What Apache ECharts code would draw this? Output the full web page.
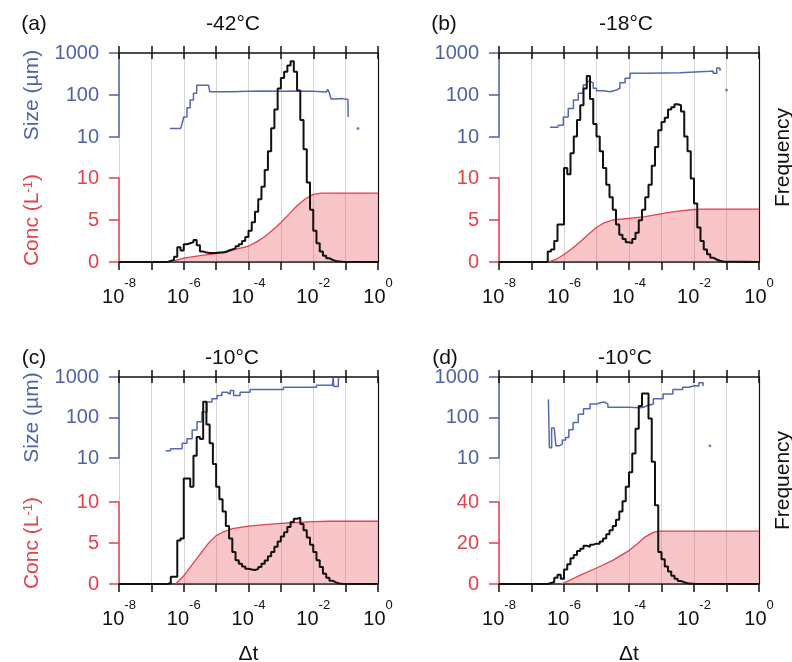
<!DOCTYPE html>
<html>
<head>
<meta charset="utf-8">
<script src="https://cdn.jsdelivr.net/npm/echarts@6/dist/echarts.min.js"></script>
<style>html,body{margin:0;padding:0;background:#fff}#c{width:792px;height:662px}</style>
</head>
<body>
<div id="c"></div>
<script>
// ---- data (x values are log10(Δt)) ----
const expMin = -8, expMax = 0;
const binWidth = 0.1;

const histA_start = -6.5;
const histA = [0.5,1,2.5,7,5.5,8.5,9,9.5,10.5,8,5,4.5,4.3,4.3,4.3,4.5,4.5,4.8,5.5,6,6.5,7.5,8.5,10,12,15,19,24,30,36,44,53,64,73,83,88,91,94,96,91,82,68,54,38,25,15,9,5,3,1.8,1,0.5,0.3,0.1];
const histB_start = -6.5;
const histB = [5,6,10,18,18,45,42,52,60,68,75,83,89,78,66,60,53,45,37,31,25,18,13,11,9.5,9,11,14,20,25,31,37,46,55,63,67,69,73,74,75.5,75,72,60,53,40,28,16.5,10,6,3.7,2,1.2,0.6,0.2];
const histC_start = -6.5;
const histC = [0.5,3.5,3.5,21,22,51,51,47,62,71,70,88,77,68,58,47,41,35,28,22,15.5,11.5,9.8,8.5,7.4,7,6.8,7.2,8.2,9.8,11.4,13.4,15.5,18,20.5,23,25,27.5,30,31.5,32,29,26,22.5,19,15.5,11.5,8.2,5,3,1.6,0.8,0.3,0.1];
const histD_start = -6.5;
const histD = [0.5,1,3,4.5,2.5,7,9.5,12.5,14,16,17,18.5,18,19,19.5,19.5,20.5,22,24,26,28,31,35,40,47,54,63,75,86,92,92,80,59,38,15.5,12,8.5,6,4,2.5,1.5,0.8,0.4,0.2,0.1];

const concA_exp = [-6.5,-6.25,-6,-5.5,-5,-4.5,-4,-3.75,-3.5,-3.25,-3,-2.75,-2.5,-2.25,-2,-1.75,0];
const concA_val = [0,0.2,0.45,0.75,1.0,1.4,1.9,2.4,3.0,3.8,4.7,5.7,6.7,7.5,8.05,8.2,8.2];
const concB_exp = [-6.5,-6.25,-6,-5.75,-5.5,-5.25,-5,-4.75,-4.5,-4,-3.5,-3,-2.5,-2,-1.75,0];
const concB_val = [0,0.3,0.9,1.6,2.4,3.3,4.1,4.7,5.0,5.2,5.4,5.75,6.05,6.25,6.3,6.3];
const concC_exp = [-6.25,-6,-5.75,-5.5,-5.25,-5,-4.75,-4.5,-4,-3.5,-3,-2.5,-2,-1.5,0];
const concC_val = [0,1.0,2.3,3.6,4.9,5.9,6.4,6.75,7.05,7.25,7.4,7.5,7.6,7.65,7.65];
const concD_exp = [-6.1,-6,-5.5,-5,-4.5,-4,-3.75,-3.5,-3.25,-3.1,0];
const concD_val = [0,0.5,4.3,7.8,11.5,16.3,19.5,23,25.2,25.8,25.8];

const sizeA_exp = [-6.43,-6.1,-6.05,-6,-5.9,-5.8,-5.7,-5.6,-5.23,-5.2,-4.8,-4.5,-4,-3.5,-3,-2.5,-2,-1.6,-1.55,-1.5,-1.45,-1.3,-1.1,-0.93,-0.92];
const sizeA_val = [16,16,21,30,50,76,110,170,175,120,120,122,124,123,125,122,118,112,135,110,80,82,78,78,30];
const sizeB_exp = [-6.43,-6.2,-6.17,-6.02,-5.87,-5.71,-5.56,-5.41,-5.3,-5.2,-5.1,-5,-4.79,-4.58,-4.38,-4.28,-4.12,-3.97,-3.46,-2.43,-1.51,-1.41,-1.3,-1.2];
const sizeB_val = [17,17,19,30,48,76,110,173,210,195,145,126,120,132,145,195,250,330,340,370,375,330,440,375];
const sizeC_exp = [-6.56,-6.41,-6.21,-6.05,-5.9,-5.74,-5.59,-5.44,-5.28,-5.13,-4.97,-4.82,-4.67,-4.56,-4.46,-4.26,-3.95,-2.92,-1.9,-1.4,-1.38,-1.37,-1.23,-1.22];
const sizeC_val = [15,17,17,23,30,49,78,136,240,290,350,420,380,465,350,420,490,560,630,760,950,580,580,950];
const sizeD_exp = [-6.48,-6.45,-6.38,-6.3,-6.25,-6.15,-6.05,-5.95,-5.85,-5.72,-5.56,-5.4,-5.2,-5,-4.85,-4.75,-4.65,-4.5,-4,-3.66,-3.55,-3.45,-3.25,-2.95,-2.65,-2.35,-2.15,-2,-1.95,-1.85,-1.72];
const sizeD_val = [280,18,55,55,20,22,28,32,50,75,120,165,215,235,240,215,180,178,175,178,195,215,290,380,490,560,610,650,600,720,600];

const dotA = [[-0.62, 16]];
const dotB = [[-1.0, 132]];
const dotC = [];
const dotD = [[-1.51, 20]];

const sizeTicks = [10, 100, 1000];

const letters = ['(a)', '(b)', '(c)', '(d)'];
const temps = ['-42°C', '-18°C', '-10°C', '-10°C'];

// ---- layout / styles ----
const FONT = '"Liberation Sans", Arial, sans-serif';
const BLUE = '#4f62a6', BLUE_LINE = '#5468b0', RED = '#e4414b', BLACK = '#111';

const panels = [
  {left:119, top:53, width:259, height:209, sizeH:84, concTop:178, concH:84, hist:[histA_start,histA], conc:[concA_exp,concA_val], size:[sizeA_exp,sizeA_val], dot:dotA, concMax:10, concInt:5, names:true, freq:false, dt:false, lx:34, tx:233, ty:24},
  {left:499, top:53, width:260, height:209, sizeH:84, concTop:178, concH:84, hist:[histB_start,histB], conc:[concB_exp,concB_val], size:[sizeB_exp,sizeB_val], dot:dotB, concMax:10, concInt:5, names:false, freq:true, dt:false, lx:444, tx:626, ty:24},
  {left:119, top:377, width:259, height:207, sizeH:81, concTop:502, concH:82, hist:[histC_start,histC], conc:[concC_exp,concC_val], size:[sizeC_exp,sizeC_val], dot:dotC, concMax:10, concInt:5, names:true, freq:false, dt:true, lx:34, tx:232, ty:358},
  {left:499, top:377, width:260, height:207, sizeH:81, concTop:502, concH:82, hist:[histD_start,histD], conc:[concD_exp,concD_val], size:[sizeD_exp,sizeD_val], dot:dotD, concMax:40, concInt:20, names:false, freq:true, dt:true, lx:445, tx:625, ty:358}
];

function histData(start, vals) {
  const d = [[expMin, 0], [start, 0]];
  vals.forEach((v, i) => d.push([+(start + i * binWidth).toFixed(3), v]));
  d.push([+(start + vals.length * binWidth).toFixed(3), 0]);
  d.push([expMax, 0]);
  return d;
}
function pairs(xs, ys) { return xs.map((x, i) => [x, ys[i]]); }

const grid = [], xAxis = [], yAxis = [], series = [], graphic = [];
const xLabelRich = {
  b: {fontSize: 20, fontFamily: FONT, color: BLACK, lineHeight: 30, verticalAlign: 'bottom'},
  s: {fontSize: 13, fontFamily: FONT, color: BLACK, lineHeight: 13, verticalAlign: 'top'}
};

panels.forEach((p, k) => {
  const g0 = k * 3, x0 = k * 5, y0 = k * 3;
  const gb = {containLabel: false, outerBoundsMode: 'none'};
  grid.push(Object.assign({left: p.left, top: p.top, width: p.width, height: p.height}, gb));
  grid.push(Object.assign({left: p.left, top: p.top, width: p.width, height: p.sizeH}, gb));
  grid.push(Object.assign({left: p.left, top: p.concTop, width: p.width, height: p.concH}, gb));

  xAxis.push({
    gridIndex: g0, type: 'value', min: expMin, max: expMax, interval: 1, position: 'bottom',
    axisLine: {show: true, onZero: false, lineStyle: {color: BLACK, width: 1.5}},
    axisTick: {show: true, inside: false, length: 8, lineStyle: {color: BLACK, width: 1.5}},
    axisLabel: {show: true, margin: 15, formatter: v => (Math.round(v) % 2 === 0 ? '{b|10}{s|' + Math.round(v) + '}' : ''), rich: xLabelRich},
    splitLine: {show: true, lineStyle: {color: '#d6d6d6', width: 1}},
    name: p.dt ? 'Δt' : '', nameLocation: 'middle', nameGap: 60,
    nameTextStyle: {fontSize: 21, fontFamily: FONT, color: BLACK}
  });
  xAxis.push({
    gridIndex: g0, type: 'value', min: expMin, max: expMax, interval: 1, position: 'top',
    axisLine: {show: true, onZero: false, lineStyle: {color: BLACK, width: 1.5}},
    axisTick: {show: true, inside: false, length: 7, lineStyle: {color: BLACK, width: 1.5}},
    axisLabel: {show: false}, splitLine: {show: false}
  });
  xAxis.push({
    gridIndex: g0, type: 'value', min: expMin, max: expMax, interval: 1, position: 'top',
    axisLine: {show: false, onZero: false},
    axisTick: {show: true, inside: true, length: 6, lineStyle: {color: BLACK, width: 1.5}},
    axisLabel: {show: false}, splitLine: {show: false}
  });
  xAxis.push({gridIndex: g0 + 1, type: 'value', min: expMin, max: expMax, show: false});
  xAxis.push({gridIndex: g0 + 2, type: 'value', min: expMin, max: expMax, show: false});

  yAxis.push({
    gridIndex: g0, type: 'value', min: 0, max: 100, position: 'right',
    axisLine: {show: true, onZero: false, lineStyle: {color: BLACK, width: 1.2}},
    axisTick: {show: false}, axisLabel: {show: false}, splitLine: {show: false},
    name: p.freq ? 'Frequency' : '', nameLocation: 'middle', nameGap: 14,
    nameTextStyle: {fontSize: 21, fontFamily: FONT, color: BLACK}
  });
  yAxis.push({
    gridIndex: g0 + 1, type: 'log', logBase: 10, min: sizeTicks[0], max: sizeTicks[sizeTicks.length - 1], position: 'left',
    axisLine: {show: true, onZero: false, lineStyle: {color: BLUE, width: 1.5}},
    axisTick: {show: true, inside: false, length: 10, lineStyle: {color: BLUE, width: 1.5}},
    axisLabel: {show: true, margin: 20, color: BLUE, fontSize: 20, fontFamily: FONT, formatter: v => String(Math.round(v))},
    splitLine: {show: false}, minorTick: {show: false},
    name: p.names ? 'Size (µm)' : '', nameLocation: 'middle', nameGap: 76,
    nameTextStyle: {fontSize: 21, fontFamily: FONT, color: BLUE}
  });
  yAxis.push({
    gridIndex: g0 + 2, type: 'value', min: 0, max: p.concMax, interval: p.concInt, position: 'left',
    axisLine: {show: true, onZero: false, lineStyle: {color: RED, width: 1.5}},
    axisTick: {show: true, inside: false, length: 10, lineStyle: {color: RED, width: 1.5}},
    axisLabel: {show: true, margin: 20, color: RED, fontSize: 20, fontFamily: FONT},
    splitLine: {show: false},
    name: p.names ? 'Conc (L{sup|-1})' : '', nameLocation: 'middle', nameGap: 76,
    nameTextStyle: {fontSize: 21, fontFamily: FONT, color: RED,
      rich: {sup: {fontSize: 13, fontFamily: FONT, color: RED, verticalAlign: 'top', lineHeight: 13}}}
  });

  series.push({
    type: 'line', xAxisIndex: x0 + 4, yAxisIndex: y0 + 2, data: pairs(p.conc[0], p.conc[1]),
    symbol: 'none', lineStyle: {color: RED, width: 1.3},
    areaStyle: {color: 'rgba(230,62,72,0.42)'}, z: 2, silent: true, animation: false
  });
  series.push({
    type: 'line', xAxisIndex: x0 + 3, yAxisIndex: y0 + 1, data: pairs(p.size[0], p.size[1]),
    step: 'end', symbol: 'none', lineStyle: {color: BLUE_LINE, width: 1.5}, z: 3, silent: true, animation: false
  });
  if (p.dot.length) series.push({
    type: 'scatter', xAxisIndex: x0 + 3, yAxisIndex: y0 + 1, data: p.dot,
    symbolSize: 3, itemStyle: {color: BLUE_LINE}, z: 3, silent: true, animation: false
  });
  series.push({
    type: 'line', xAxisIndex: x0, yAxisIndex: y0, data: histData(p.hist[0], p.hist[1]),
    step: 'end', symbol: 'none', lineStyle: {color: BLACK, width: 2}, z: 4, silent: true, animation: false
  });

  graphic.push({type: 'text', x: p.lx, y: p.ty, style: {text: letters[k], fontSize: 21, fontFamily: FONT, fill: BLACK, align: 'center', verticalAlign: 'middle'}});
  graphic.push({type: 'text', x: p.tx, y: p.ty, style: {text: temps[k], fontSize: 21, fontFamily: FONT, fill: BLACK, align: 'center', verticalAlign: 'middle'}});
});

const chart = echarts.init(document.getElementById('c'), null, {renderer: 'canvas'});
chart.setOption({animation: false, backgroundColor: '#fff', grid, xAxis, yAxis, series, graphic});
</script>
</body>
</html>
